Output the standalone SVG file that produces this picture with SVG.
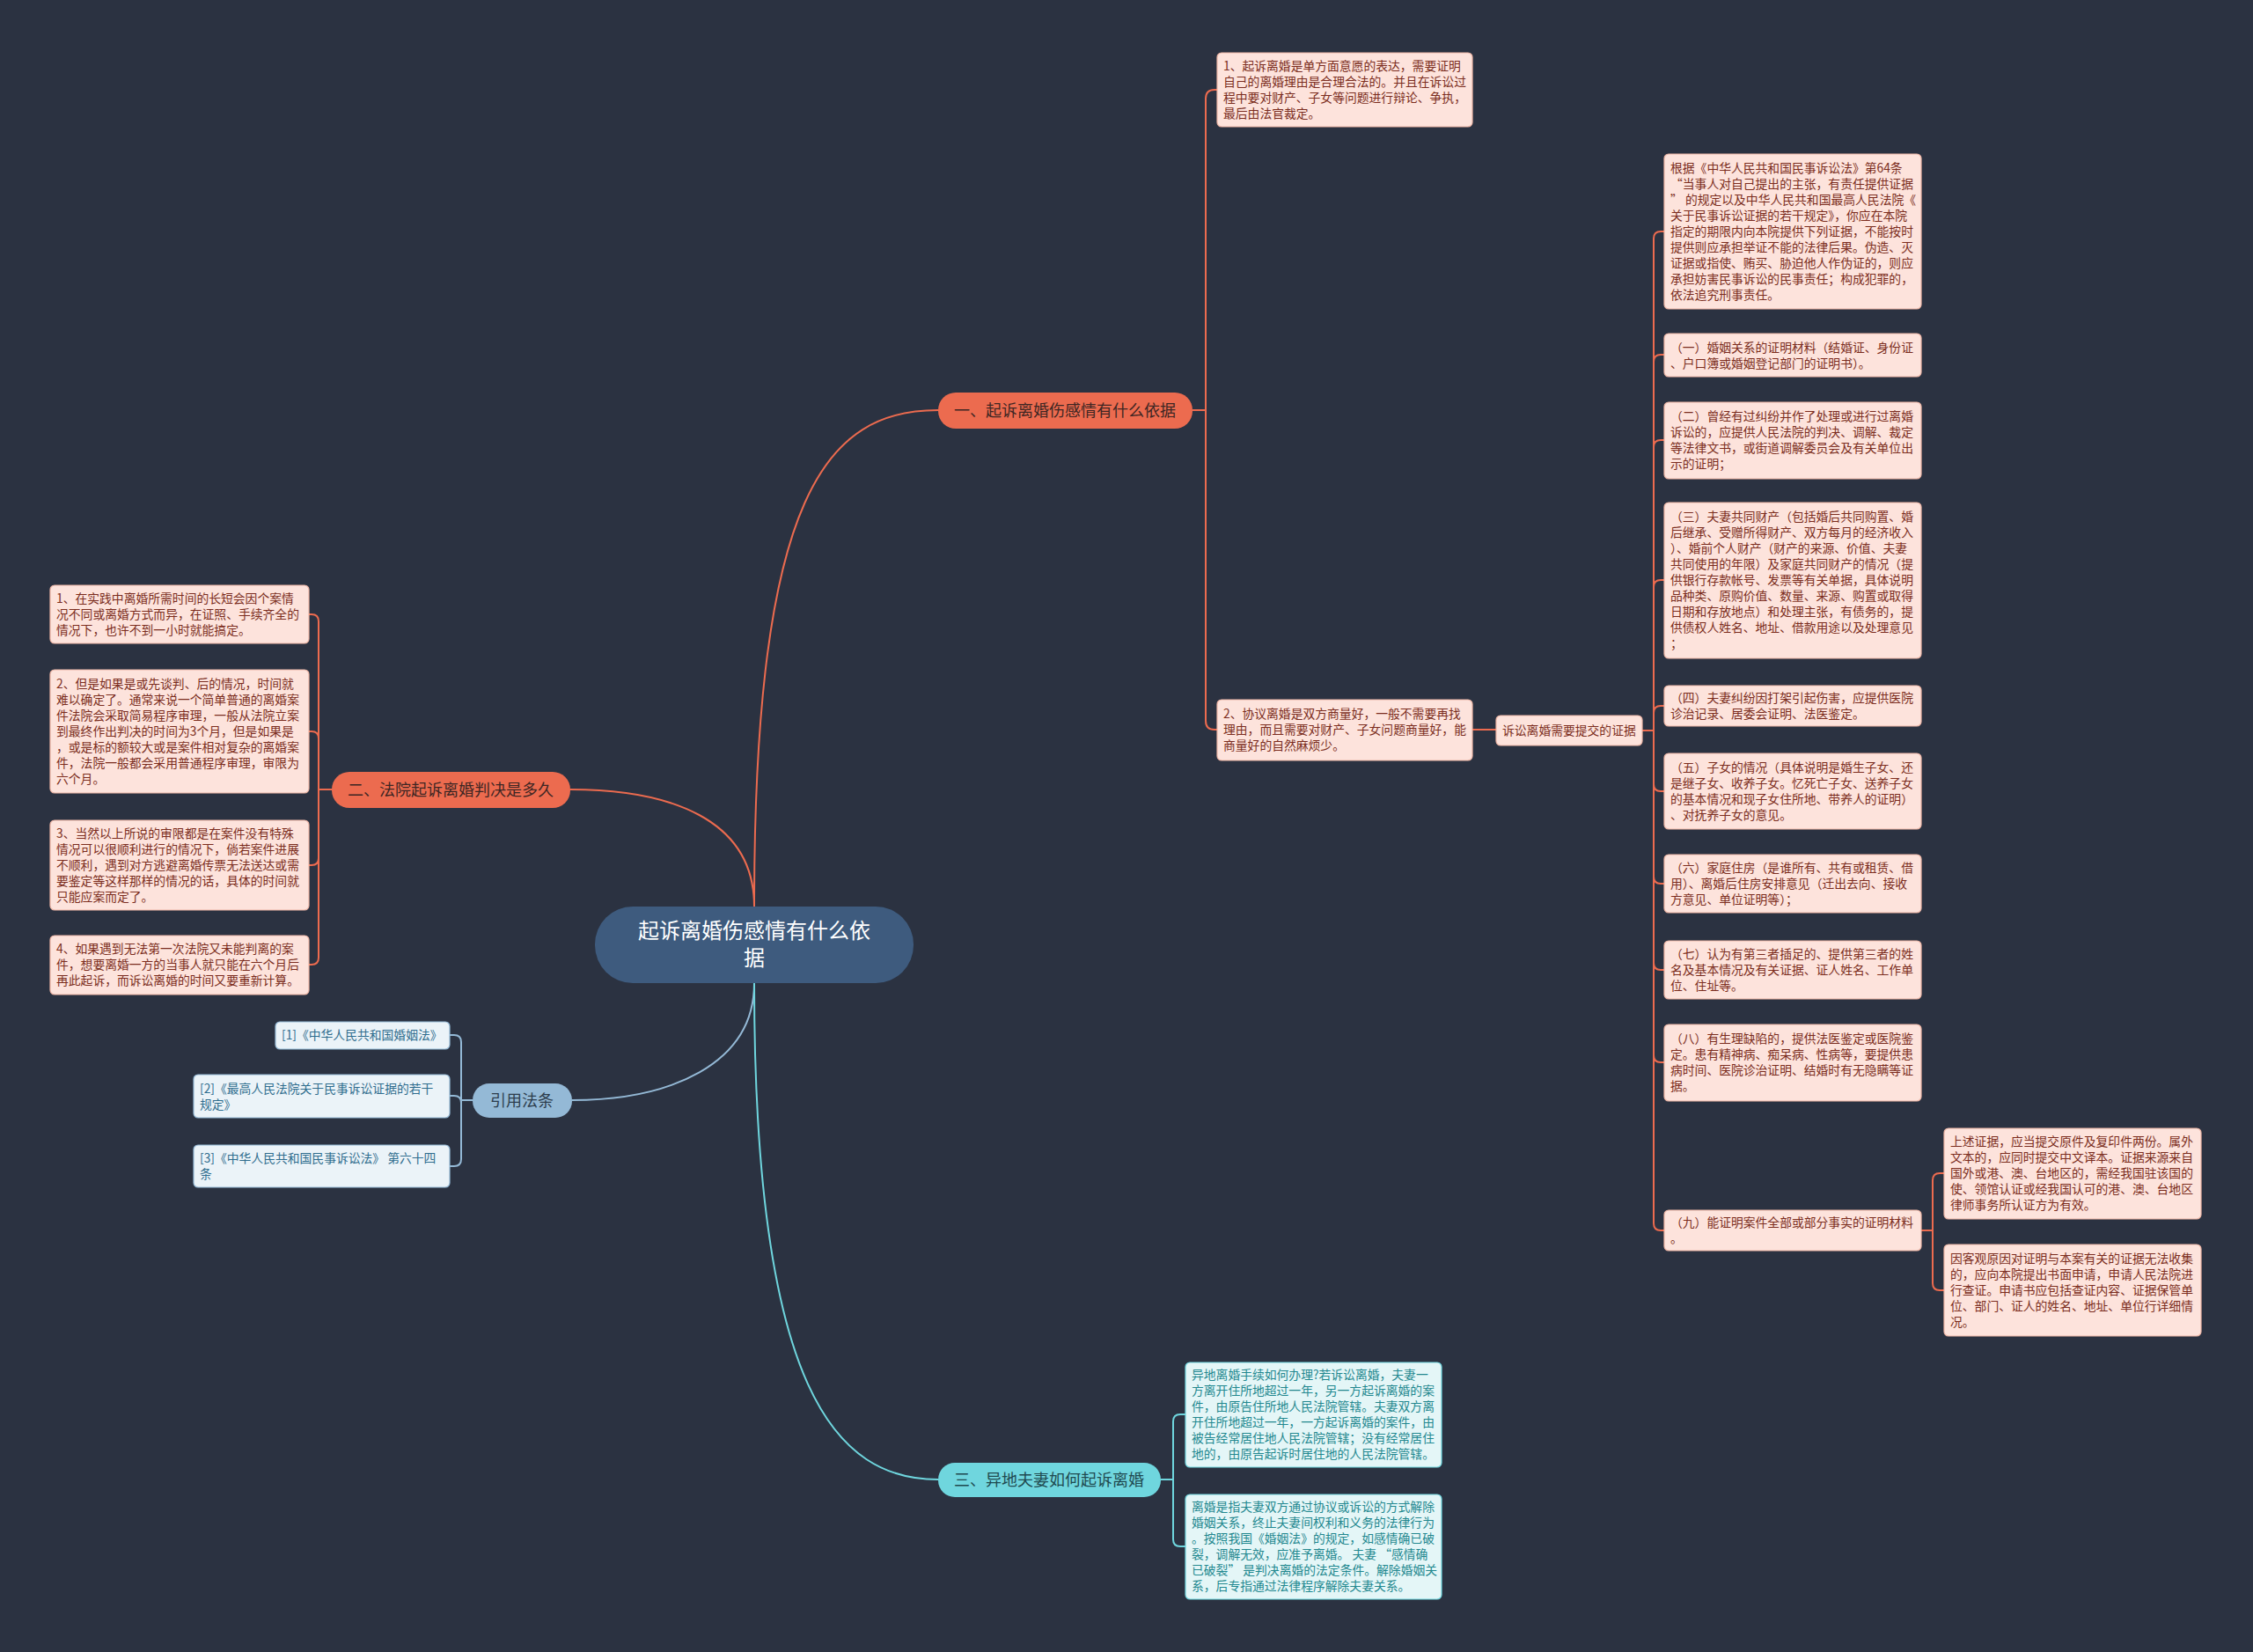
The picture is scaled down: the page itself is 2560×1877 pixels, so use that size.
<svg xmlns="http://www.w3.org/2000/svg" width="2560" height="1877" viewBox="0 0 2560 1877">
<style>
text{font-family:"Noto Sans CJK SC","Microsoft YaHei",sans-serif;}
.pk rect{fill:#fde3dc;stroke:#eeb6a6;stroke-width:1.2;}
.pk text{fill:#7b2d20;font-size:13.8px;}
.rf rect{fill:#ebf3f8;stroke:#94b9d6;stroke-width:1.2;}
.rf text{fill:#2f6d8e;font-size:13.8px;}
.cy rect{fill:#e4f6f7;stroke:#6fd6de;stroke-width:1.2;}
.cy text{fill:#23888f;font-size:13.8px;}
.br text{font-size:18px;}
.c{fill:none;stroke-width:2;}
.o{stroke:#ec6b4f;}
.b{stroke:#94b9d6;}
.t{stroke:#6fd6de;}
</style>
<rect width="2560" height="1877" fill="#2b3241"/>
<g id="connectors">
<path class="c o" stroke-width="2.5" d="M857,1030 C857,560 940,466 1066,466"/>
<path class="c o" stroke-width="2.5" d="M857,1030 C857,930 760,897 648,897"/>
<path class="c b" stroke-width="2.5" d="M857,1117 C857,1210 760,1250 650,1250"/>
<path class="c t" stroke-width="2.5" d="M857,1117 C857,1580 950,1681 1066,1681"/>
<path class="c o" d="M1355,466 H1370 V112 Q1370,102 1380,102 H1383"/>
<path class="c o" d="M1355,466 H1370 V819 Q1370,829 1380,829 H1383"/>
<path class="c o" d="M1673,829 H1700"/>
<path class="c o" d="M1866,830 H1879 V271 Q1879,263 1887,263 H1891"/>
<path class="c o" d="M1866,830 H1879 V411 Q1879,403 1887,403 H1891"/>
<path class="c o" d="M1866,830 H1879 V508 Q1879,500 1887,500 H1891"/>
<path class="c o" d="M1866,830 H1879 V667 Q1879,659 1887,659 H1891"/>
<path class="c o" d="M1866,830 H1879 V810 Q1879,802 1887,802 H1891"/>
<path class="c o" d="M1866,830 H1879 V891 Q1879,899 1887,899 H1891"/>
<path class="c o" d="M1866,830 H1879 V996 Q1879,1004 1887,1004 H1891"/>
<path class="c o" d="M1866,830 H1879 V1094 Q1879,1102 1887,1102 H1891"/>
<path class="c o" d="M1866,830 H1879 V1199 Q1879,1207 1887,1207 H1891"/>
<path class="c o" d="M1866,830 H1879 V1390 Q1879,1398 1887,1398 H1891"/>
<path class="c o" d="M2183,1398 H2196 V1341 Q2196,1333 2204,1333 H2209"/>
<path class="c o" d="M2183,1398 H2196 V1458 Q2196,1466 2204,1466 H2209"/>
<path class="c o" d="M377,897 H362 V706 Q362,698 354,698 H351"/>
<path class="c o" d="M377,897 H362 V839 Q362,831 354,831 H351"/>
<path class="c o" d="M377,897 H362 V975 Q362,983 354,983 H351"/>
<path class="c o" d="M377,897 H362 V1088 Q362,1096 354,1096 H351"/>
<path class="c b" d="M537,1250 H524 V1184 Q524,1176 516,1176 H511"/>
<path class="c b" d="M537,1250 H524 V1253 Q524,1245 516,1245 H511"/>
<path class="c b" d="M537,1250 H524 V1317 Q524,1325 516,1325 H511"/>
<path class="c t" d="M1319,1681 H1333 V1615 Q1333,1607 1341,1607 H1347"/>
<path class="c t" d="M1319,1681 H1333 V1749 Q1333,1757 1341,1757 H1347"/>
</g>
<g id="center">
<rect x="676" y="1030" width="362" height="87" rx="43" fill="#3e5b7e"/>
<text x="857" y="1066" font-size="24" fill="#ffffff" text-anchor="middle">起诉离婚伤感情有什么依</text>
<text x="857" y="1097" font-size="24" fill="#ffffff" text-anchor="middle">据</text>
</g>
<g id="branch1" class="br">
<rect x="1066" y="446" width="289" height="41" rx="20" fill="#ec6b4f"/>
<text x="1210" y="473" fill="#3e2623" text-anchor="middle">一、起诉离婚伤感情有什么依据</text>
</g>
<g id="branch2" class="br">
<rect x="377" y="877" width="271" height="41" rx="20" fill="#ec6b4f"/>
<text x="512" y="904" fill="#3e2623" text-anchor="middle">二、法院起诉离婚判决是多久</text>
</g>
<g id="refs" class="br">
<rect x="537" y="1231" width="113" height="39" rx="19" fill="#94b9d6"/>
<text x="593" y="1257" fill="#2d3d4d" text-anchor="middle">引用法条</text>
</g>
<g id="branch3" class="br">
<rect x="1066" y="1662" width="253" height="39" rx="19" fill="#6fd6de"/>
<text x="1192" y="1688" fill="#1f4a50" text-anchor="middle">三、异地夫妻如何起诉离婚</text>
</g>
<g id="a1" class="pk">
<rect x="1383" y="60" width="290" height="84" rx="5"/>
<text x="1390" y="80">1、起诉离婚是单方面意愿的表达，需要证明</text>
<text x="1390" y="98">自己的离婚理由是合理合法的。并且在诉讼过</text>
<text x="1390" y="116">程中要对财产、子女等问题进行辩论、争执，</text>
<text x="1390" y="134">最后由法官裁定。</text>
</g>
<g id="a2" class="pk">
<rect x="1383" y="795" width="290" height="69" rx="5"/>
<text x="1390" y="816">2、协议离婚是双方商量好，一般不需要再找</text>
<text x="1390" y="834">理由，而且需要对财产、子女问题商量好，能</text>
<text x="1390" y="852">商量好的自然麻烦少。</text>
</g>
<g id="a3" class="pk">
<rect x="1700" y="813" width="166" height="34" rx="5"/>
<text x="1707" y="835">诉讼离婚需要提交的证据</text>
</g>
<g id="r0" class="pk">
<rect x="1891" y="175" width="292" height="176" rx="5"/>
<text x="1898" y="196">根据《中华人民共和国民事诉讼法》第64条</text>
<text x="1898" y="214"> “当事人对自己提出的主张，有责任提供证据</text>
<text x="1898" y="232">” 的规定以及中华人民共和国最高人民法院《</text>
<text x="1898" y="250">关于民事诉讼证据的若干规定》，你应在本院</text>
<text x="1898" y="268">指定的期限内向本院提供下列证据，不能按时</text>
<text x="1898" y="286">提供则应承担举证不能的法律后果。伪造、灭</text>
<text x="1898" y="304">证据或指使、贿买、胁迫他人作伪证的，则应</text>
<text x="1898" y="322">承担妨害民事诉讼的民事责任；构成犯罪的，</text>
<text x="1898" y="340">依法追究刑事责任。</text>
</g>
<g id="r1" class="pk">
<rect x="1891" y="379" width="292" height="49" rx="5"/>
<text x="1898" y="400">（一）婚姻关系的证明材料（结婚证、身份证</text>
<text x="1898" y="418">、户口簿或婚姻登记部门的证明书）。</text>
</g>
<g id="r2" class="pk">
<rect x="1891" y="457" width="292" height="87" rx="5"/>
<text x="1898" y="478">（二）曾经有过纠纷并作了处理或进行过离婚</text>
<text x="1898" y="496">诉讼的，应提供人民法院的判决、调解、裁定</text>
<text x="1898" y="514">等法律文书，或街道调解委员会及有关单位出</text>
<text x="1898" y="532">示的证明；</text>
</g>
<g id="r3" class="pk">
<rect x="1891" y="571" width="292" height="177" rx="5"/>
<text x="1898" y="592">（三）夫妻共同财产（包括婚后共同购置、婚</text>
<text x="1898" y="610">后继承、受赠所得财产、双方每月的经济收入</text>
<text x="1898" y="628">）、婚前个人财产（财产的来源、价值、夫妻</text>
<text x="1898" y="646">共同使用的年限）及家庭共同财产的情况（提</text>
<text x="1898" y="664">供银行存款帐号、发票等有关单据，具体说明</text>
<text x="1898" y="682">品种类、原购价值、数量、来源、购置或取得</text>
<text x="1898" y="700">日期和存放地点）和处理主张，有债务的，提</text>
<text x="1898" y="718">供债权人姓名、地址、借款用途以及处理意见</text>
<text x="1898" y="736">；</text>
</g>
<g id="r4" class="pk">
<rect x="1891" y="779" width="292" height="46" rx="5"/>
<text x="1898" y="798">（四）夫妻纠纷因打架引起伤害，应提供医院</text>
<text x="1898" y="816">诊治记录、居委会证明、法医鉴定。</text>
</g>
<g id="r5" class="pk">
<rect x="1891" y="856" width="292" height="86" rx="5"/>
<text x="1898" y="877">（五）子女的情况（具体说明是婚生子女、还</text>
<text x="1898" y="895">是继子女、收养子女。忆死亡子女、送养子女</text>
<text x="1898" y="913">的基本情况和现子女住所地、带养人的证明）</text>
<text x="1898" y="931">、对抚养子女的意见。</text>
</g>
<g id="r6" class="pk">
<rect x="1891" y="971" width="292" height="66" rx="5"/>
<text x="1898" y="991">（六）家庭住房（是谁所有、共有或租赁、借</text>
<text x="1898" y="1009">用）、离婚后住房安排意见（迁出去向、接收</text>
<text x="1898" y="1027">方意见、单位证明等）；</text>
</g>
<g id="r7" class="pk">
<rect x="1891" y="1069" width="292" height="66" rx="5"/>
<text x="1898" y="1089">（七）认为有第三者插足的、提供第三者的姓</text>
<text x="1898" y="1107">名及基本情况及有关证据、证人姓名、工作单</text>
<text x="1898" y="1125">位、住址等。</text>
</g>
<g id="r8" class="pk">
<rect x="1891" y="1164" width="292" height="87" rx="5"/>
<text x="1898" y="1185">（八）有生理缺陷的，提供法医鉴定或医院鉴</text>
<text x="1898" y="1203">定。患有精神病、痴呆病、性病等，要提供患</text>
<text x="1898" y="1221">病时间、医院诊治证明、结婚时有无隐瞒等证</text>
<text x="1898" y="1239">据。</text>
</g>
<g id="r9" class="pk">
<rect x="1891" y="1375" width="292" height="46" rx="5"/>
<text x="1898" y="1394">（九）能证明案件全部或部分事实的证明材料</text>
<text x="1898" y="1412">。</text>
</g>
<g id="rr1" class="pk">
<rect x="2209" y="1282" width="292" height="103" rx="5"/>
<text x="2216" y="1302">上述证据，应当提交原件及复印件两份。属外</text>
<text x="2216" y="1320">文本的，应同时提交中文译本。证据来源来自</text>
<text x="2216" y="1338">国外或港、澳、台地区的，需经我国驻该国的</text>
<text x="2216" y="1356">使、领馆认证或经我国认可的港、澳、台地区</text>
<text x="2216" y="1374">律师事务所认证方为有效。</text>
</g>
<g id="rr2" class="pk">
<rect x="2209" y="1414" width="292" height="104" rx="5"/>
<text x="2216" y="1435">因客观原因对证明与本案有关的证据无法收集</text>
<text x="2216" y="1453">的，应向本院提出书面申请，申请人民法院进</text>
<text x="2216" y="1471">行查证。申请书应包括查证内容、证据保管单</text>
<text x="2216" y="1489">位、部门、证人的姓名、地址、单位行详细情</text>
<text x="2216" y="1507">况。</text>
</g>
<g id="l1" class="pk">
<rect x="57" y="665" width="294" height="66" rx="5"/>
<text x="64" y="685">1、在实践中离婚所需时间的长短会因个案情</text>
<text x="64" y="703">况不同或离婚方式而异，在证照、手续齐全的</text>
<text x="64" y="721">情况下，也许不到一小时就能搞定。</text>
</g>
<g id="l2" class="pk">
<rect x="57" y="761" width="294" height="140" rx="5"/>
<text x="64" y="782">2、但是如果是或先谈判、后的情况，时间就</text>
<text x="64" y="800">难以确定了。通常来说一个简单普通的离婚案</text>
<text x="64" y="818">件法院会采取简易程序审理，一般从法院立案</text>
<text x="64" y="836">到最终作出判决的时间为3个月，但是如果是</text>
<text x="64" y="854">，或是标的额较大或是案件相对复杂的离婚案</text>
<text x="64" y="872">件，法院一般都会采用普通程序审理，审限为</text>
<text x="64" y="890">六个月。</text>
</g>
<g id="l3" class="pk">
<rect x="57" y="932" width="294" height="102" rx="5"/>
<text x="64" y="952">3、当然以上所说的审限都是在案件没有特殊</text>
<text x="64" y="970">情况可以很顺利进行的情况下，倘若案件进展</text>
<text x="64" y="988">不顺利，遇到对方逃避离婚传票无法送达或需</text>
<text x="64" y="1006">要鉴定等这样那样的情况的话，具体的时间就</text>
<text x="64" y="1024">只能应案而定了。</text>
</g>
<g id="l4" class="pk">
<rect x="57" y="1063" width="294" height="67" rx="5"/>
<text x="64" y="1083">4、如果遇到无法第一次法院又未能判离的案</text>
<text x="64" y="1101">件，想要离婚一方的当事人就只能在六个月后</text>
<text x="64" y="1119">再此起诉，而诉讼离婚的时间又要重新计算。</text>
</g>
<g id="f1" class="rf">
<rect x="313" y="1161" width="198" height="31" rx="5"/>
<text x="320" y="1181">[1]《中华人民共和国婚姻法》</text>
</g>
<g id="f2" class="rf">
<rect x="220" y="1221" width="291" height="49" rx="5"/>
<text x="227" y="1242">[2]《最高人民法院关于民事诉讼证据的若干</text>
<text x="227" y="1260">规定》</text>
</g>
<g id="f3" class="rf">
<rect x="220" y="1301" width="291" height="48" rx="5"/>
<text x="227" y="1321">[3]《中华人民共和国民事诉讼法》 第六十四</text>
<text x="227" y="1339">条</text>
</g>
<g id="b1" class="cy">
<rect x="1347" y="1548" width="291" height="119" rx="5"/>
<text x="1354" y="1567">异地离婚手续如何办理?若诉讼离婚，夫妻一</text>
<text x="1354" y="1585">方离开住所地超过一年，另一方起诉离婚的案</text>
<text x="1354" y="1603">件，由原告住所地人民法院管辖。夫妻双方离</text>
<text x="1354" y="1621">开住所地超过一年，一方起诉离婚的案件，由</text>
<text x="1354" y="1639">被告经常居住地人民法院管辖；没有经常居住</text>
<text x="1354" y="1657">地的，由原告起诉时居住地的人民法院管辖。</text>
</g>
<g id="b2" class="cy">
<rect x="1347" y="1698" width="291" height="119" rx="5"/>
<text x="1354" y="1717">离婚是指夫妻双方通过协议或诉讼的方式解除</text>
<text x="1354" y="1735">婚姻关系，终止夫妻间权利和义务的法律行为</text>
<text x="1354" y="1753">。按照我国《婚姻法》的规定，如感情确已破</text>
<text x="1354" y="1771">裂，调解无效，应准予离婚。 夫妻 “感情确</text>
<text x="1354" y="1789">已破裂” 是判决离婚的法定条件。解除婚姻关</text>
<text x="1354" y="1807">系，后专指通过法律程序解除夫妻关系。</text>
</g>
</svg>
